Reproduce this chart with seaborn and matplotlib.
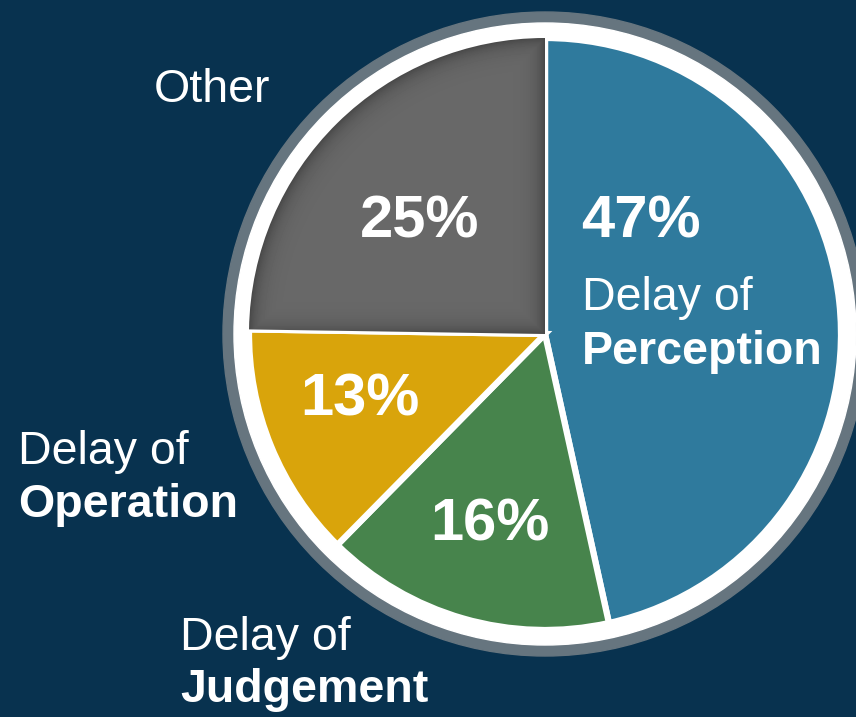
import matplotlib
matplotlib.use("Agg")
import matplotlib.pyplot as plt
import seaborn as sns
import numpy as np
from matplotlib.patches import Circle

# data
labels = ["Delay of Perception", "Delay of Judgement", "Delay of Operation", "Other"]
shares = [47, 16, 13, 25]
colors = ["#2f7a9d", "#47844c", "#d9a40b", "#686868"]
bg = "#08324f"

sns.set_theme(style="white")
plt.rcParams['font.family'] = ['Liberation Sans', 'DejaVu Sans']

fig = plt.figure(figsize=(8.56, 7.17), dpi=100, facecolor=bg)
ax = fig.add_axes([0, 0, 1, 1])
ax.set_facecolor(bg)
ax.set_xlim(0, 856)
ax.set_ylim(0, 717)
ax.set_aspect("equal")
ax.axis("off")

cx, cy = 545, 717 - 334
R = 296

# outer rings
ax.add_patch(Circle((cx, cy), 322, color="#66757f", zorder=1))
ax.add_patch(Circle((cx, cy), 311, color="white", zorder=2))

wedges, _ = ax.pie(shares, colors=colors, startangle=90, counterclock=False,
                   center=(cx, cy), radius=R, frame=True,
                   wedgeprops=dict(edgecolor="white", linewidth=4.5, zorder=3))
for w in wedges:
    w.set_zorder(3)

# inner shadow along the edges of the grey wedge
gx, gy = np.meshgrid(np.arange(0, 856) + 0.5, np.arange(0, 717) + 0.5)
rr = np.hypot(gx - cx, gy - cy)
d = np.minimum(np.minimum(R - rr, np.abs(cx - gx)), np.abs(gy - cy))
d = np.clip(d, 0, None)
shade = 0.41 - 0.13 * np.exp(-d / 9.0)
img = ax.imshow(shade, extent=(0, 856, 0, 717), origin="lower", cmap="gray",
                vmin=0, vmax=1, zorder=3.5, interpolation="bilinear")
img.set_clip_path(wedges[3])
ax.set_xlim(0, 856)
ax.set_ylim(0, 717)

tk = dict(color="white", zorder=5)
# percentages
ax.text(641, 717 - 222, "47%", fontsize=43, fontweight="bold", ha="center", va="center", **tk)
ax.text(420, 717 - 222, "25%", fontsize=43, fontweight="bold", ha="center", va="center", **tk)
ax.text(360, 717 - 400, "13%", fontsize=43, fontweight="bold", ha="center", va="center", **tk)
ax.text(490, 717 - 525, "16%", fontsize=43, fontweight="bold", ha="center", va="center", **tk)

# category labels
ax.text(212, 717 - 90, "Other", fontsize=33.5, ha="center", va="center", **tk)
ax.text(582, 717 - 298, "Delay of", fontsize=33.5, ha="left", va="center", **tk)
ax.text(582, 717 - 352, "Perception", fontsize=33.5, fontweight="bold", ha="left", va="center", **tk)
ax.text(18, 717 - 452, "Delay of", fontsize=33.5, ha="left", va="center", **tk)
ax.text(18, 717 - 505, "Operation", fontsize=33.5, fontweight="bold", ha="left", va="center", **tk)
ax.text(180, 717 - 638, "Delay of", fontsize=33.5, ha="left", va="center", **tk)
ax.text(180, 717 - 690, "Judgement", fontsize=33.5, fontweight="bold", ha="left", va="center", **tk)

fig.savefig("out.png", dpi=100, facecolor=bg)
